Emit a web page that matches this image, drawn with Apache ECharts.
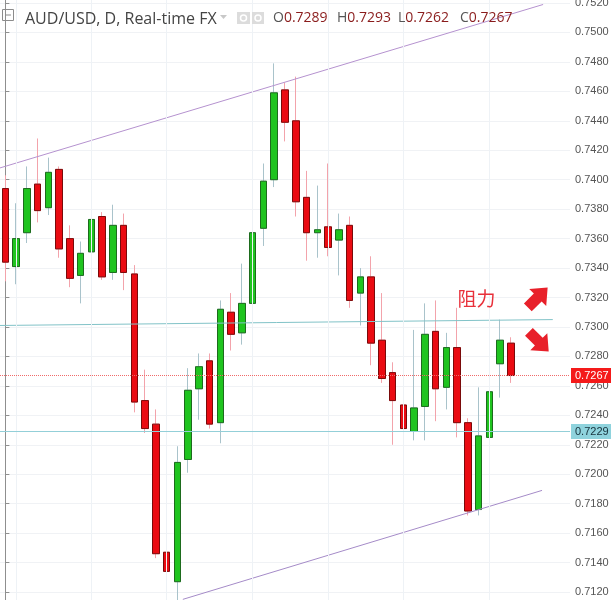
<!DOCTYPE html>
<html><head><meta charset="utf-8">
<script src="https://cdn.jsdelivr.net/npm/echarts@6/dist/echarts.min.js"></script>
<style>html,body{margin:0;padding:0;background:#fff}#c{width:611px;height:600px}</style>
</head><body><div id="c"></div>
<script>
// ---- data ----
const categories = ['1','2','3','4','5','6','7','8','9','10','11','12','13','14','15','16','17','18','19','20',
  '21','22','23','24','25','26','27','28','29','30','31','32','33','34','35','36','37','38','39','40',
  '41','42','43','44','45','46','47','48','49','50','51','52','53'];
const openP  = [0.7394,0.7341,0.7364,0.7397,0.7381,0.7407,0.7360,0.7335,0.7351,0.7375,0.7337,0.7369,
  0.7336,0.7250,0.7234,0.7147,0.7127,0.7210,0.7258,0.7277,0.7235,0.7310,0.7296,0.7316,
  0.7367,0.7400,0.7461,0.7440,0.7388,0.7364,0.7368,0.7359,0.7369,0.7323,0.7334,0.7291,
  0.7269,0.7247,0.7229,0.7246,0.7297,0.7259,0.7286,0.7235,0.7176,0.7225,0.7275,0.7289];
const closeP = [0.7344,0.7360,0.7394,0.7379,0.7405,0.7353,0.7333,0.7350,0.7373,0.7334,0.7369,0.7337,
  0.7249,0.7231,0.7146,0.7134,0.7208,0.7257,0.7273,0.7234,0.7312,0.7295,0.7316,0.7364,
  0.7399,0.7459,0.7439,0.7385,0.7364,0.7366,0.7354,0.7366,0.7318,0.7334,0.7289,0.7265,
  0.7250,0.7231,0.7245,0.7295,0.7258,0.7286,0.7235,0.7175,0.7226,0.7256,0.7291,0.7267];
const lowP   = [0.7331,0.7329,0.7357,0.7371,0.7376,0.7347,0.7327,0.7316,0.7323,0.7332,0.7332,0.7325,
  0.7242,0.7228,0.7143,0.7111,0.7113,0.7201,0.7237,0.7231,0.7221,0.7284,0.7288,0.7308,
  0.7355,0.7395,0.7426,0.7375,0.7345,0.7347,0.7348,0.7335,0.7313,0.7301,0.7274,0.7262,
  0.7220,0.7221,0.7223,0.7223,0.7236,0.7244,0.7225,0.7172,0.7172,0.7191,0.7252,0.7262];
const highP  = [0.7403,0.7384,0.7409,0.7428,0.7415,0.7409,0.7369,0.7358,0.7390,0.7378,0.7383,0.7377,
  0.7342,0.7271,0.7244,0.7158,0.7219,0.7272,0.7282,0.7282,0.7318,0.7323,0.7343,0.7385,
  0.7411,0.7479,0.7466,0.7470,0.7406,0.7396,0.7411,0.7377,0.7375,0.7340,0.7348,0.7323,
  0.7276,0.7285,0.7298,0.7316,0.7318,0.7296,0.7313,0.7238,0.7259,0.7278,0.7305,0.7293];
const yMin = 0.7100, yMax = 0.7540, yInterval = 0.0020;
const upperChannel   = [[-0.5,0.7408],[50.0,0.7519]];
const lowerChannel   = [[16.5,0.7115],[49.9,0.7189]];
const resistanceLine = [[-0.5,0.7301],[50.9,0.7305]];
const lastClose = 0.7267;
const supportLevel = 0.7229;
const weekGridIdx = [1,8,15,23,30,37,45];
const arrowUp = [49.5,0.7320];
const arrowDown = [49.6,0.7290];
const labelPos = [43.8,0.7319];
const titleText = 'AUD/USD, D, Real-time FX';
const annotationText = '阻力';

// ---- build ----
const wickData = openP.map((o,i)=>[o, closeP[i], lowP[i], highP[i]]);
const bodyData = openP.map((o,i)=>[o, closeP[i], Math.min(o,closeP[i]), Math.max(o,closeP[i])]);
const n = openP.length - 1;
const ohlc = [['O',openP[n]],['H',highP[n]],['L',lowP[n]],['C',closeP[n]]];
const ohlcX = [273,337,398,460];
const arrowPath = 'path://M0,-12 L12,0 L5.5,0 L5.5,12 L-5.5,12 L-5.5,0 L-12,0 Z';

const chart = echarts.init(document.getElementById('c'), null, {renderer:'canvas'});
const graphic = [
  {type:'rect', shape:{x:2.5,y:9.5,width:11,height:11}, style:{fill:'none', stroke:'#8c8c8c', lineWidth:1}, z:100},
  {type:'line', shape:{x1:5,y1:15,x2:11,y2:15}, style:{stroke:'#8c8c8c', lineWidth:1}, z:100},
  {type:'text', x:25, y:19, style:{text:titleText, fontSize:16, fontFamily:'Open Sans', fill:'#444', verticalAlign:'middle'}, z:100},
  {type:'polygon', shape:{points:[[220,15],[227,15],[223.5,19]]}, style:{fill:'#c8c8c8'}, z:100},
  {type:'rect', shape:{x:237,y:12,width:13,height:12}, style:{fill:'#dcdcdc'}, z:100},
  {type:'circle', shape:{cx:243.5,cy:18,r:3}, style:{fill:'none', stroke:'#fff', lineWidth:1.5}, z:101},
  {type:'rect', shape:{x:252,y:12,width:12,height:12}, style:{fill:'#dcdcdc'}, z:100},
  {type:'circle', shape:{cx:258,cy:18,r:3}, style:{fill:'none', stroke:'#fff', lineWidth:1.5}, z:101}
];
ohlc.forEach((g,i)=>{
  graphic.push({type:'text', x:ohlcX[i], y:18.5, z:100, style:{
    text:'{l|'+g[0]+'}{v|'+g[1].toFixed(4)+'}', verticalAlign:'middle',
    rich:{l:{fontSize:14, fontFamily:'Open Sans', fill:'#555'}, v:{fontSize:14, fontFamily:'Open Sans', fill:'#8a1c1c'}}
  }});
});

chart.setOption({
  animation:false,
  backgroundColor:'#fff',
  grid:{left:0, right:41, top:-26.45, bottom:-21.45, containLabel:false, outerBoundsMode:'none'},
  xAxis:[
    {type:'category', data:categories, show:false, boundaryGap:true, gridIndex:0},
    {type:'value', min:-0.5, max:52.5, show:false, gridIndex:0}
  ],
  yAxis:{type:'value', position:'right', min:yMin, max:yMax, interval:yInterval,
    axisLine:{show:true, lineStyle:{color:'#8f8f8f'}},
    axisTick:{show:true, length:4, lineStyle:{color:'#8f8f8f'}},
    axisLabel:{color:'#555', fontSize:11, fontFamily:'Liberation Sans', margin:5, formatter:v=>v.toFixed(4)},
    splitLine:{show:true, lineStyle:{color:'#f0f2f5'}}
  },
  graphic: graphic,
  series:[
    {type:'line', xAxisIndex:1, data:[], z:0, silent:true,
      markLine:{symbol:['none','none'], silent:true, precision:4, label:{show:false},
        lineStyle:{color:'#eef2f6', type:'solid', width:1},
        data: weekGridIdx.map(v=>({xAxis:v}))}},
    {type:'candlestick', xAxisIndex:0, barWidth:7, silent:true, data:wickData,
      itemStyle:{color:'rgba(0,0,0,0)', color0:'rgba(0,0,0,0)', borderColor:'#a9c3cb', borderColor0:'#f3a3ab', borderWidth:1}},
    {type:'candlestick', xAxisIndex:0, barWidth:7, silent:true, data:bodyData,
      itemStyle:{color:'#1fc41f', color0:'#ea0b12', borderColor:'#1d6b1d', borderColor0:'#7a0a0a', borderWidth:1},
      markLine:{symbol:['none','none'], silent:true, precision:4, data:[
        {yAxis:lastClose, lineStyle:{color:'#f06a6a', type:'dotted', width:1},
          label:{show:true, position:'end', distance:1, formatter:lastClose.toFixed(4), backgroundColor:'#f41a1a', color:'#fff',
            fontSize:11, fontFamily:'Liberation Sans', padding:[3,4,1,4]}},
        {yAxis:supportLevel, lineStyle:{color:'#93cfd8', type:'solid', width:1},
          label:{show:true, position:'end', distance:1, formatter:supportLevel.toFixed(4), backgroundColor:'#8fd3dd', color:'#16313b',
            fontSize:11, fontFamily:'Liberation Sans', padding:[3,4,1,4]}}
      ]}},
    {type:'line', xAxisIndex:1, data:upperChannel, symbol:'none', silent:true, lineStyle:{color:'#b592cf', width:1}},
    {type:'line', xAxisIndex:1, data:lowerChannel, symbol:'none', silent:true, lineStyle:{color:'#a58bc8', width:1}},
    {type:'line', xAxisIndex:1, data:resistanceLine, symbol:'none', silent:true, lineStyle:{color:'#82c3c8', width:1},
      markPoint:{silent:true, data:[
        {coord:arrowUp, symbol:arrowPath, symbolSize:[24,28], symbolRotate:-45, itemStyle:{color:'#e8202a'}, label:{show:false}},
        {coord:arrowDown, symbol:arrowPath, symbolSize:[24,28], symbolRotate:-135, itemStyle:{color:'#e8202a'}, label:{show:false}},
        {coord:labelPos, symbol:'circle', symbolSize:1, itemStyle:{color:'rgba(0,0,0,0)'},
          label:{show:true, position:'inside', formatter:annotationText, color:'#e8303a', fontSize:19, fontFamily:'Noto Sans CJK SC'}}
      ]}}
  ]
});
</script></body></html>
